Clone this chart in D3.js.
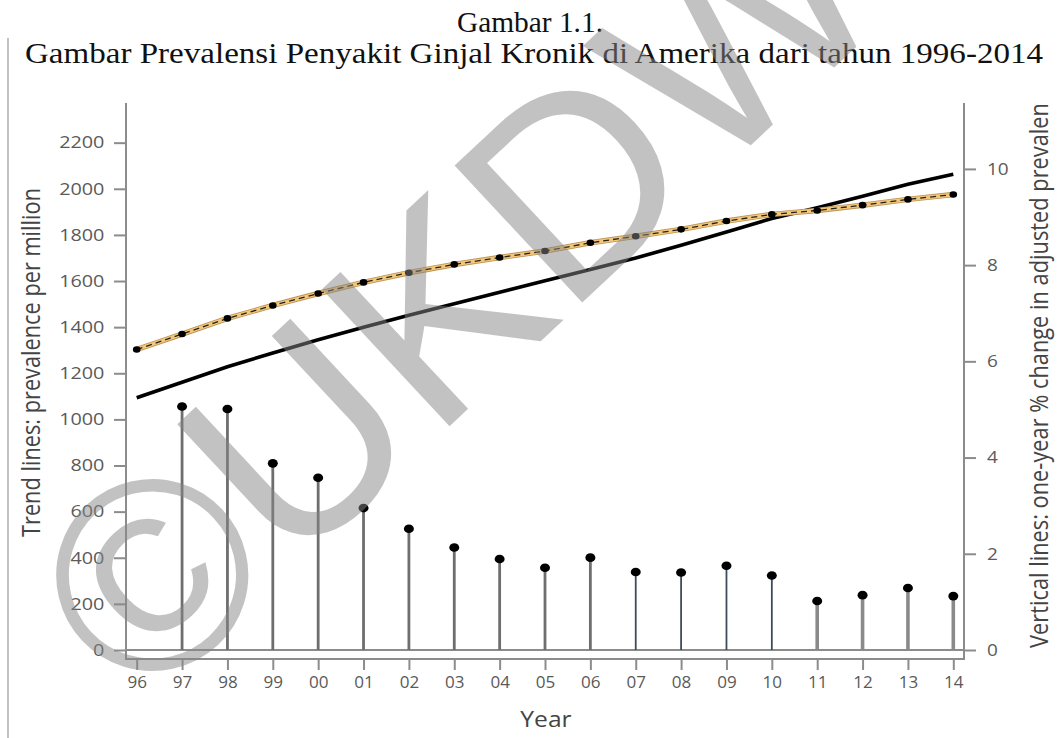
<!DOCTYPE html>
<html>
<head>
<meta charset="utf-8">
<script src="https://cdn.jsdelivr.net/npm/d3@7"></script>
<style>
  html, body { margin: 0; padding: 0; background: #fff; }
  svg { display: block; }
</style>
</head>
<body>
<svg id="chart" width="1061" height="738"></svg>
<script>
// ---- data ----
const years = [1996,1997,1998,1999,2000,2001,2002,2003,2004,2005,2006,2007,2008,2009,2010,2011,2012,2013,2014];
const yearLabels = ["96","97","98","99","00","01","02","03","04","05","06","07","08","09","10","11","12","13","14"];
// dashed orange trend (with markers), prevalence per million
const adjustedTrend = [1303,1370,1438,1494,1546,1594,1636,1672,1702,1730,1766,1794,1824,1860,1889,1906,1929,1954,1975];
// solid black trend, prevalence per million
const unadjustedTrend = [1094,1161,1228,1288,1345,1400,1452,1501,1551,1601,1650,1700,1755,1813,1871,1918,1968,2020,2063];
// vertical lines: one-year % change
const changeYears = [1997,1998,1999,2000,2001,2002,2003,2004,2005,2006,2007,2008,2009,2010,2011,2012,2013,2014];
const pctChange = [5.06,5.01,3.88,3.58,2.95,2.52,2.13,1.89,1.71,1.92,1.62,1.61,1.75,1.55,1.02,1.14,1.29,1.12];
const leftTicks = [0,200,400,600,800,1000,1200,1400,1600,1800,2000,2200];
const rightTicks = [0,2,4,6,8,10];
const titleLines = ["Gambar 1.1.", "Gambar Prevalensi Penyakit Ginjal Kronik di Amerika dari tahun 1996-2014"];
const leftLabel = "Trend lines: prevalence per million";
const rightLabel = "Vertical lines: one-year % change in adjusted prevalen";
const xLabel = "Year";
const watermark = "\u00A9UKDW";

// ---- layout ----
const svg = d3.select("#chart");
const plotL = 126, plotR = 964, plotT = 103, zeroY = 650, frameB = 659;
const x = d3.scaleLinear().domain([1996, 2014]).range([136.7, 953.3]);
const yL = d3.scaleLinear().domain([0, 2372]).range([zeroY, plotT]);
const yR = d3.scaleLinear().domain([0, 11.37]).range([zeroY, plotT]);
const axisColor = "#8c8c8c";
const tickFont = "'Open Sans', 'Noto Sans', sans-serif";

// title
svg.append("text").attr("x", 530).attr("y", 32).attr("text-anchor", "middle")
  .attr("font-family", "'Liberation Serif', 'Times New Roman', serif").attr("font-size", 30)
  .attr("fill", "#111").attr("textLength", 146).attr("lengthAdjust", "spacingAndGlyphs")
  .text(titleLines[0]);
svg.append("text").attr("x", 25).attr("y", 63)
  .attr("font-family", "'Liberation Serif', 'Times New Roman', serif").attr("font-size", 30)
  .attr("fill", "#111").attr("textLength", 1018).attr("lengthAdjust", "spacingAndGlyphs")
  .text(titleLines[1]);

// left page border line
svg.append("line").attr("x1", 8).attr("x2", 8).attr("y1", 38).attr("y2", 738)
  .attr("stroke", "#9a9a9a").attr("stroke-width", 1.2);

// frame
svg.append("path")
  .attr("d", `M${plotL},${plotT}V${frameB}H${plotR}V${plotT}`)
  .attr("fill", "none").attr("stroke", axisColor).attr("stroke-width", 2);
svg.append("line").attr("x1", plotL).attr("x2", plotR).attr("y1", yL(0)).attr("y2", yL(0))
  .attr("stroke", axisColor).attr("stroke-width", 2);

// left axis
const gL = svg.append("g").attr("transform", `translate(${plotL},0)`)
  .call(d3.axisLeft(yL).tickValues(leftTicks).tickFormat(d3.format("d"))
    .tickSize(12).tickPadding(6).tickSizeOuter(0));
gL.select(".domain").remove();
gL.selectAll(".tick line").attr("stroke", axisColor).attr("stroke-width", 2);
gL.selectAll(".tick text").attr("font-family", tickFont).attr("font-size", 16.5)
  .attr("fill", "#5a5a5a").attr("transform", "scale(1.2,1)");

// right axis
const gR = svg.append("g").attr("transform", `translate(${plotR},0)`)
  .call(d3.axisRight(yR).tickValues(rightTicks).tickFormat(d3.format("d"))
    .tickSize(12).tickPadding(8).tickSizeOuter(0));
gR.select(".domain").remove();
gR.selectAll(".tick line").attr("stroke", axisColor).attr("stroke-width", 2);
gR.selectAll(".tick text").attr("font-family", tickFont).attr("font-size", 16.5)
  .attr("fill", "#5a5a5a").attr("transform", "scale(1.15,1)");

// x axis
const gX = svg.append("g").attr("transform", `translate(0,${frameB})`)
  .call(d3.axisBottom(x).tickValues(years).tickFormat((d, i) => yearLabels[i])
    .tickSize(11).tickPadding(7).tickSizeOuter(0));
gX.select(".domain").remove();
gX.selectAll(".tick line").attr("stroke", axisColor).attr("stroke-width", 2);
gX.selectAll(".tick text").attr("font-family", tickFont).attr("font-size", 15.5)
  .attr("fill", "#5a5a5a").attr("transform", "scale(1.1,1)");

// axis titles
svg.append("text").attr("transform", "translate(40,362.5) scale(1.25,1) rotate(-90)")
  .attr("text-anchor", "middle").attr("font-family", tickFont).attr("font-size", 20)
  .attr("fill", "#444").attr("textLength", 349).attr("lengthAdjust", "spacingAndGlyphs")
  .text(leftLabel);
svg.append("text").attr("transform", "translate(1048,648) scale(1.25,1) rotate(-90)")
  .attr("text-anchor", "start").attr("font-family", tickFont).attr("font-size", 20)
  .attr("fill", "#444").attr("textLength", 545).attr("lengthAdjust", "spacingAndGlyphs")
  .text(rightLabel);
svg.append("text").attr("transform", "translate(546,726.5) scale(1.12,1)")
  .attr("text-anchor", "middle").attr("font-family", tickFont).attr("font-size", 22)
  .attr("fill", "#444").text(xLabel);

// stems
const stemStyle = yr => yr >= 2007 && yr <= 2010 ? {c: "#3e4c5c", w: 1.8}
  : yr >= 2011 ? {c: "#8a8a8a", w: 3.6} : {c: "#6e6e6e", w: 2.8};
const stems = svg.append("g");
changeYears.forEach((yr, i) => {
  const s = stemStyle(yr);
  stems.append("line").attr("x1", x(yr)).attr("x2", x(yr))
    .attr("y1", yR(0)).attr("y2", yR(pctChange[i]))
    .attr("stroke", s.c).attr("stroke-width", s.w);
  stems.append("ellipse").attr("cx", x(yr)).attr("cy", yR(pctChange[i]))
    .attr("rx", 5).attr("ry", 4.3).attr("fill", "#000");
});

// trend lines
const lineL = d3.line().x((d, i) => x(years[i])).y(d => yL(d));
svg.append("path").datum(unadjustedTrend).attr("d", lineL)
  .attr("fill", "none").attr("stroke", "#000").attr("stroke-width", 3.6);
svg.append("path").datum(adjustedTrend).attr("d", lineL)
  .attr("fill", "none").attr("stroke", "#b8955a").attr("stroke-width", 5.5);
svg.append("path").datum(adjustedTrend).attr("d", lineL)
  .attr("fill", "none").attr("stroke", "#f5c676").attr("stroke-width", 3.8);
svg.append("path").datum(adjustedTrend).attr("d", lineL)
  .attr("fill", "none").attr("stroke", "#222").attr("stroke-width", 1.3)
  .attr("stroke-dasharray", "6,4");
svg.append("g").selectAll("ellipse").data(adjustedTrend).join("ellipse")
  .attr("cx", (d, i) => x(years[i])).attr("cy", d => yL(d))
  .attr("rx", 3.8).attr("ry", 3.3).attr("fill", "#000");

// watermark
svg.append("text").attr("transform", "translate(143,712) rotate(-43)")
  .attr("text-anchor", "start")
  .attr("font-family", "'Liberation Sans', Arial, sans-serif").attr("font-size", 272)
  .attr("fill", "#868686").attr("fill-opacity", 0.5).text(watermark);
</script>
</body>
</html>
